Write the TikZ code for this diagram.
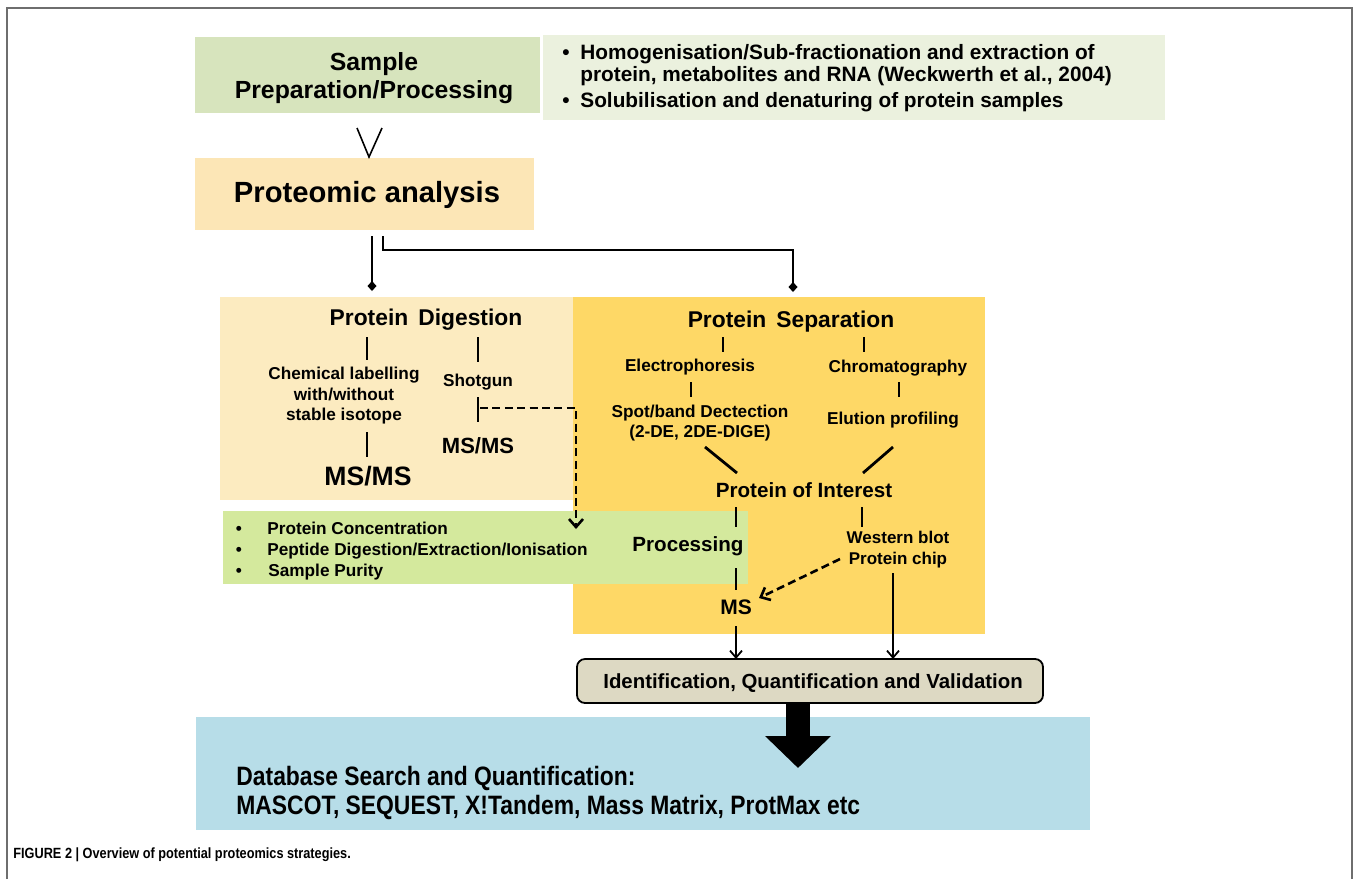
\documentclass[tikz,border=0pt]{standalone}
\usepackage{fontspec}
\setmainfont{Liberation Sans}
\newfontfamily\narrowfont[FakeStretch=0.86]{Liberation Sans}
\usetikzlibrary{arrows.meta,fit}
\definecolor{sampfill}{HTML}{D7E4BD}
\definecolor{bulfill}{HTML}{EBF1DE}
\definecolor{protfill}{HTML}{FCE6B6}
\definecolor{digfill}{HTML}{FCEBC0}
\definecolor{sepfill}{HTML}{FED866}
\definecolor{procfill}{HTML}{D4E99D}
\definecolor{identfill}{HTML}{DDD9C3}
\definecolor{dbfill}{HTML}{B7DDE8}
\definecolor{framegray}{HTML}{6E6E6E}
\newcommand{\fsz}[2]{\fontsize{#1}{#2}\selectfont}
\begin{document}
\begin{tikzpicture}[x=0.5pt,y=-0.5pt,
  boxfit/.style={inner sep=0pt, outer sep=0pt, draw=none},
  identstyle/.style={inner sep=0pt, outer sep=0pt, draw=black, line width=0.9pt, rounded corners=4pt, fill=identfill},
  lbl/.style={inner sep=0pt, anchor=mid, align=center, font=\bfseries\fsz{8.6}{10.25}},
  multi/.style={lbl, anchor=center},
  tickline/.style={line width=1.4pt},
  conn/.style={line width=1.3pt},
  dashline/.style={line width=1.3pt, dash pattern=on 4pt off 2.2pt},
  arr/.style={line width=0.9pt, -{Straight Barb[length=3.5pt,width=6pt]}},
  dasharr/.style={line width=1.3pt, dash pattern=on 4pt off 2.2pt, -{Straight Barb[length=4pt,width=7pt]}},
  diam/.style={conn, -{Diamond[length=5pt,width=4.5pt]}}
]
\useasboundingbox (0,0) rectangle (1358,879);
\fill[white] (0,0) rectangle (1358,879);
\draw[framegray, line width=1pt] (7,879) -- (7,8) -- (1352,8) -- (1352,879);

% boxes
\node[boxfit, fill=sampfill, fit={(195,37)(540,113)}] (samplebox) {};
\node[boxfit, fill=bulfill, fit={(543,35)(1165,120)}] (bulbox) {};
\node[boxfit, fill=protfill, fit={(195,158)(534,230)}] (protbox) {};
\node[boxfit, fill=digfill, fit={(220,297)(573,500)}] (digbox) {};
\node[boxfit, fill=sepfill, fit={(573,297)(985,634)}] (sepbox) {};
\node[boxfit, fill=procfill, fit={(223,511)(748,584)}] (procbox) {};
\node[identstyle, fit={(577,659)(1043,703)}] (identbox) {};
\node[boxfit, fill=dbfill, fit={(196,717)(1090,830)}] (dbbox) {};

% top texts
\node[multi, font=\bfseries\fsz{12.4}{14}] (sample) at (374,78) {Sample\\Preparation/Processing};
\node[lbl, font=\bfseries\fsz{10.4}{11}] (bul1) at (566,54) {•};
\node[lbl, anchor=mid west, font=\bfseries\fsz{10.4}{11}] (bt1) at (580,54) {Homogenisation/Sub-fractionation and extraction of};
\node[lbl, anchor=mid west, font=\bfseries\fsz{10.4}{11}] (bt2) at (580,76) {protein, metabolites and RNA (Weckwerth et al., 2004)};
\node[lbl, font=\bfseries\fsz{10.4}{11}] (bul2) at (566,102) {•};
\node[lbl, anchor=mid west, font=\bfseries\fsz{10.4}{11}] (bt3) at (580,102) {Solubilisation and denaturing of protein samples};
\node[lbl, font=\bfseries\fsz{14.6}{17}] (prot) at (367,197) {Proteomic analysis};

% V shape
\coordinate (vl) at (357,128);
\coordinate (vb) at (369,157);
\coordinate (vr) at (382,128);
\draw[line width=0.8pt] (vl) -- (vb) -- (vr);

% split connectors
\coordinate (c1s) at (372,236);
\coordinate (c1e) at (372,291);
\coordinate (c2s) at (383,236);
\coordinate (c2m) at (383,250);
\coordinate (c2n) at (793,250);
\coordinate (c2e) at (793,292);
\draw[diam] (c1s) -- (c1e);
\draw[diam] (c2s) -- (c2m) -- (c2n) -- (c2e);

% digestion
\node[lbl, font=\bfseries\fsz{11.4}{13}] (dig) at (426,320) {Protein\, Digestion};
\node[multi] (chem) at (344,396) {Chemical labelling\\with/without\\stable isotope};
\node[lbl] (shot) at (478,381) {Shotgun};
\node[lbl, font=\bfseries\fsz{11}{13}] (msms1) at (478,448) {MS/MS};
\node[lbl, font=\bfseries\fsz{13.3}{15}] (msms2) at (368,480) {MS/MS};
\coordinate (t1a) at (367,337); \coordinate (t1b) at (367,360);
\coordinate (t2a) at (478,337); \coordinate (t2b) at (478,362);
\coordinate (t3a) at (478,397); \coordinate (t3b) at (478,422);
\coordinate (t4a) at (367,432); \coordinate (t4b) at (367,457);
\draw[tickline] (t1a) -- (t1b);
\draw[tickline] (t2a) -- (t2b);
\draw[tickline] (t3a) -- (t3b);
\draw[tickline] (t4a) -- (t4b);
\coordinate (ds) at (480,408);
\coordinate (dm) at (576,408);
\coordinate (de) at (576,529);
\draw[dasharr] (ds) -- (dm) -- (de);

% separation
\node[lbl, font=\bfseries\fsz{11.4}{13}] (sep) at (791,322) {Protein\, Separation};
\node[lbl] (elec) at (690,366) {Electrophoresis};
\node[lbl] (chrom) at (898,367) {Chromatography};
\node[multi, font=\bfseries\fsz{8.6}{10}] (spot) at (700,423) {Spot/band Dectection\\(2-DE, 2DE-DIGE)};
\node[lbl] (elut) at (893,419) {Elution profiling};
\node[lbl, font=\bfseries\fsz{10.3}{12}] (poi) at (804,492) {Protein of Interest};
\coordinate (t5a) at (723,337); \coordinate (t5b) at (723,352);
\coordinate (t6a) at (864,337); \coordinate (t6b) at (864,352);
\coordinate (t7a) at (691,382); \coordinate (t7b) at (691,397);
\coordinate (t8a) at (899,382); \coordinate (t8b) at (899,397);
\coordinate (d1a) at (705,447); \coordinate (d1b) at (737,473);
\coordinate (d2a) at (893,447); \coordinate (d2b) at (863,473);
\draw[tickline] (t5a) -- (t5b);
\draw[tickline] (t6a) -- (t6b);
\draw[tickline] (t7a) -- (t7b);
\draw[tickline] (t8a) -- (t8b);
\draw[tickline] (d1a) -- (d1b);
\draw[tickline] (d2a) -- (d2b);

% processing box texts
\node[lbl, font=\bfseries\fsz{8.6}{10}] (pb1) at (239,529) {•};
\node[lbl, anchor=mid west, font=\bfseries\fsz{8.6}{10}] (pt1) at (267,529) {Protein Concentration};
\node[lbl, font=\bfseries\fsz{8.6}{10}] (pb2) at (239,550) {•};
\node[lbl, anchor=mid west, font=\bfseries\fsz{8.6}{10}] (pt2) at (267,550) {Peptide Digestion/Extraction/Ionisation};
\node[lbl, font=\bfseries\fsz{8.6}{10}] (pb3) at (239,571) {•};
\node[lbl, anchor=mid west, font=\bfseries\fsz{8.6}{10}] (pt3) at (268,571) {Sample Purity};
\node[lbl, font=\bfseries\fsz{10.3}{12}] (proc) at (688,546) {Processing};
\node[multi, font=\bfseries\fsz{8.5}{10.5}] (wb) at (898,550) {Western blot\\Protein chip};
\node[lbl, font=\bfseries\fsz{10.5}{12}] (ms) at (736,609) {MS};
\coordinate (t9a) at (736,507); \coordinate (t9b) at (736,527);
\coordinate (t10a) at (736,568); \coordinate (t10b) at (736,590);
\coordinate (t11a) at (862,507); \coordinate (t11b) at (862,527);
\draw[tickline] (t9a) -- (t9b);
\draw[tickline] (t10a) -- (t10b);
\draw[tickline] (t11a) -- (t11b);
\coordinate (wbs) at (840,559);
\coordinate (mse) at (759,598);
\draw[dasharr] (wbs) -- (mse);
\coordinate (ms1) at (736,626);
\draw[arr] (ms1) -- (ms1 |- identbox.north);
\coordinate (wb1) at (893,573);
\draw[arr] (wb1) -- (wb1 |- identbox.north);

% identification
\node[lbl, font=\bfseries\fsz{10.2}{12}] (ident) at (813,683) {Identification, Quantification and Validation};

% big arrow
\coordinate (ba) at (798,703);
\coordinate (bb) at (798,768);
\draw[line width=12pt, -{Triangle[length=16pt,width=32pt]}] (ba) -- (bb);

% database
\node[lbl, anchor=mid west, font=\narrowfont\bfseries\fsz{13.3}{15}] (db1) at (236,780) {Database Search and Quantification:};
\node[lbl, anchor=mid west, font=\narrowfont\bfseries\fsz{13.3}{15}] (db2) at (236,809) {MASCOT, SEQUEST, X!Tandem, Mass Matrix, ProtMax etc};

% caption
\node[lbl, anchor=mid west, font=\narrowfont\bfseries\fsz{7.4}{9}] (cap) at (13,853) {FIGURE 2 | Overview of potential proteomics strategies.};
\end{tikzpicture}
\end{document}
